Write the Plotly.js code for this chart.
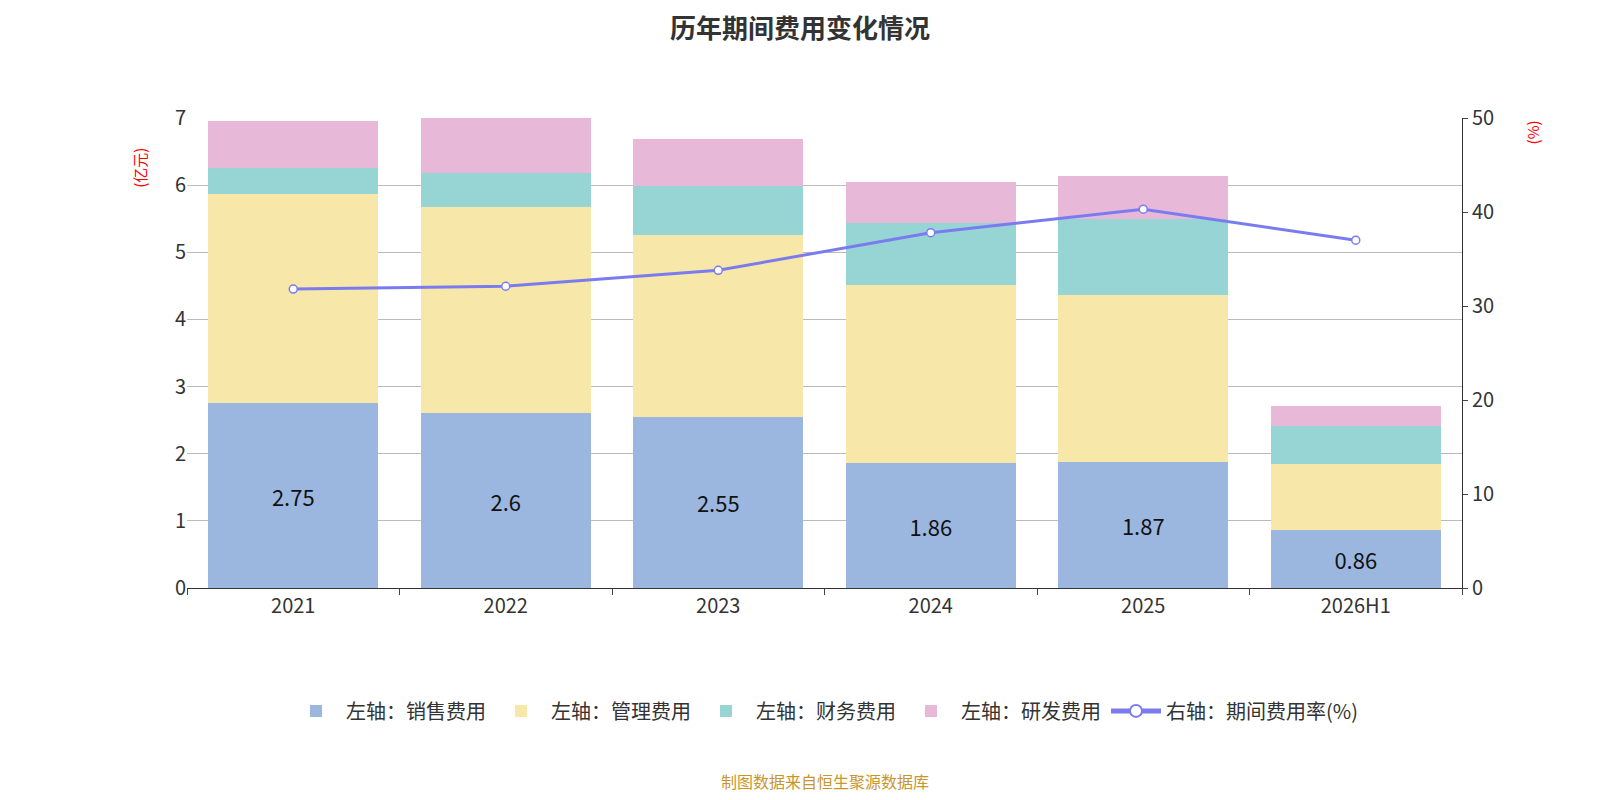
<!DOCTYPE html>
<html><head><meta charset="utf-8">
<script src="https://cdn.plot.ly/plotly-3.0.1.min.js"></script>
<style>body{margin:0}#c{width:1600px;height:800px}</style>
</head><body><div id="c"></div>
<script>
const years = ['2021', '2022', '2023', '2024', '2025', '2026H1'];
const sales = [2.75, 2.6, 2.55, 1.86, 1.87, 0.86];
const admin = [3.12, 3.08, 2.71, 2.66, 2.50, 0.99];
const finance = [0.39, 0.50, 0.72, 0.92, 1.13, 0.56];
const rnd = [0.70, 0.87, 0.71, 0.61, 0.64, 0.30];
const rate = [31.8, 32.1, 33.8, 37.8, 40.3, 37.0];

const font = {family: 'Noto Sans CJK SC, sans-serif'};
function bar(name, y, color, text) {
    return {type: 'bar', x: years, y: y, name: name, marker: {color: color},
        text: text ? y.map(String) : undefined, textposition: text ? 'inside' : 'none',
        insidetextanchor: 'middle', textfont: {size: 22, color: '#111'},
        hoverinfo: 'y+name'};
}
let data = [
    bar('左轴：销售费用', sales, '#9bb7e0', true),
    bar('左轴：管理费用', admin, '#f7e7a8'),
    bar('左轴：财务费用', finance, '#97d4d4'),
    bar('左轴：研发费用', rnd, '#e7b8d8'),
    {type: 'scatter', mode: 'lines+markers', x: years, y: rate, yaxis: 'y2',
        name: '右轴：期间费用率(%)', line: {color: '#7b7bf0', width: 3},
        marker: {size: 8, color: '#fff', line: {color: '#7b7bf0', width: 1.5}}}
];
let layout = {
    width: 1600, height: 800, font: font, barmode: 'stack', bargap: 0.2,
    paper_bgcolor: '#fff', plot_bgcolor: '#fff',
    title: {text: '<b>历年期间费用变化情况</b>', x: 0.5, y: 0.975, font: {size: 26, color: '#333'}},
    margin: {l: 187, r: 138, t: 118, b: 212, autoexpand: false},
    xaxis: {type: 'category', tickfont: {size: 20, color: '#333'}, showline: true, linecolor: '#333', ticks: 'outside', ticklen: 6, tickson: 'boundaries'},
    yaxis: {range: [0, 7], dtick: 1, gridcolor: '#bbb', tickfont: {size: 20, color: '#333'}, zeroline: false},
    yaxis2: {range: [0, 50], dtick: 10, overlaying: 'y', side: 'right', showgrid: false, showline: true,
        linecolor: '#333', ticks: 'outside', tickfont: {size: 20, color: '#333'}, zeroline: false},
    legend: {orientation: 'h', x: 0.5, xanchor: 'center', y: -0.22, font: {size: 20, color: '#333'},
        traceorder: 'normal', itemwidth: 50, itemsizing: 'constant'},
    annotations: [
        {text: '制图数据来自恒生聚源数据库', xref: 'paper', yref: 'paper', x: 0.5, y: -0.44,
            showarrow: false, font: {size: 16, color: '#c8962a'}},
        {text: '(亿元)', xref: 'paper', yref: 'paper', x: -0.047, y: 0.94, textangle: -90,
            showarrow: false, font: {size: 15, color: 'red'}},
        {text: '(%)', xref: 'paper', yref: 'paper', x: 1.065, y: 1.0, textangle: -90,
            showarrow: false, font: {size: 15, color: 'red'}}
    ]
};
Plotly.newPlot('c', data, layout, {displayModeBar: false});
</script></body></html>
